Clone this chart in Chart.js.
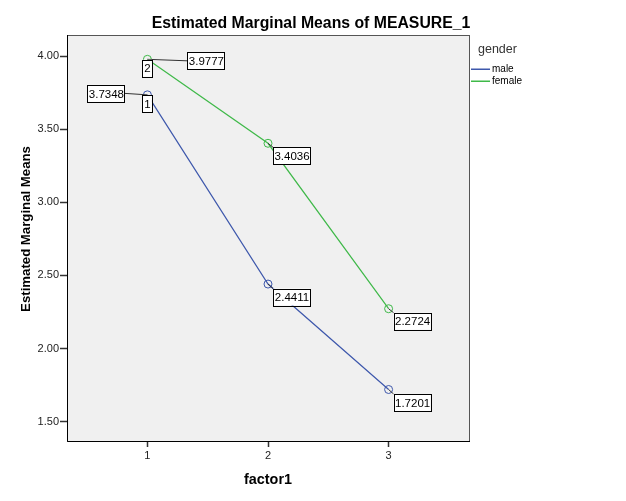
<!DOCTYPE html>
<html>
<head>
<meta charset="utf-8">
<script src="https://cdn.jsdelivr.net/npm/chart.js@4/dist/chart.umd.min.js"></script>
<style>
  html, body { margin: 0; padding: 0; background: #fff; }
  #wrap { position: relative; width: 626px; height: 501px; }
</style>
</head>
<body>
<div id="wrap"><canvas id="emm" width="626" height="501"></canvas></div>
<script>
'use strict';

// Data
const factorLevels = [1, 2, 3];
const maleMeans = [3.7348, 2.4411, 1.7201];
const femaleMeans = [3.9777, 3.4036, 2.2724];
const yTicks = [1.5, 2.0, 2.5, 3.0, 3.5, 4.0];
const seriesNames = ['male', 'female'];

const MALE = '#3e58ac';
const FEMALE = '#3fb949';
const seriesColors = [MALE, FEMALE];

// label box offsets relative to the point (left, top) - style only
const labelOffsets = {
    male: [[-60, -10], [5, 4.5], [5, 4.5]],
    female: [[40, -7], [5, 4], [5, 4]]
};

function fitFont(ctx, text, weight, targetWidth, base) {
    ctx.font = `${weight} ${base}px Arial, "Liberation Sans", sans-serif`;
    const w = ctx.measureText(text).width;
    return base * targetWidth / w;
}

function drawBox(ctx, text, left, top, w) {
    const h = 17;
    ctx.fillStyle = '#fff';
    ctx.fillRect(left, top, w, h);
    ctx.strokeStyle = '#000';
    ctx.lineWidth = 1;
    ctx.strokeRect(Math.round(left) + 0.5, Math.round(top) + 0.5, w, h);
    ctx.fillStyle = '#000';
    ctx.font = '11.5px Arial, "Liberation Sans", sans-serif';
    ctx.textAlign = 'center';
    ctx.textBaseline = 'middle';
    ctx.fillText(text, left + w / 2 + 0.5, top + h / 2 + 1);
}

const decorPlugin = {
    id: 'spssDecor',
    beforeDatasetsDraw(chart) {
        const { ctx, chartArea: a } = chart;
        ctx.save();
        ctx.fillStyle = '#f0f0f0';
        ctx.fillRect(a.left, a.top, a.right - a.left, a.bottom - a.top);
        ctx.restore();
    },
    afterDraw(chart) {
        const { ctx, chartArea: a } = chart;
        ctx.save();
        // frame
        ctx.strokeStyle = '#555';
        ctx.lineWidth = 1;
        ctx.strokeRect(a.left + 0.5, a.top + 0.5, a.right - a.left, a.bottom - a.top);
        ctx.strokeStyle = '#000';
        ctx.beginPath();
        ctx.moveTo(a.left + 0.5, a.top);
        ctx.lineTo(a.left + 0.5, a.bottom + 0.5);
        ctx.lineTo(a.right + 1, a.bottom + 0.5);
        ctx.stroke();

        // title
        const title = 'Estimated Marginal Means of MEASURE_1';
        const tSize = fitFont(ctx, title, 'bold', 319, 16);
        ctx.font = `bold ${tSize}px Arial, "Liberation Sans", sans-serif`;
        ctx.fillStyle = '#000';
        ctx.textAlign = 'center';
        ctx.textBaseline = 'alphabetic';
        ctx.fillText(title, 311, 27.5);

        // axis titles
        const xt = 'factor1';
        ctx.font = `bold ${fitFont(ctx, xt, 'bold', 48, 14)}px Arial, "Liberation Sans", sans-serif`;
        ctx.fillText(xt, (a.left + a.right) / 2, 483.5);
        const yt = 'Estimated Marginal Means';
        const ySize = fitFont(ctx, yt, 'bold', 166, 14);
        ctx.save();
        ctx.translate(30, 229);
        ctx.rotate(-Math.PI / 2);
        ctx.font = `bold ${ySize}px Arial, "Liberation Sans", sans-serif`;
        ctx.fillText(yt, 0, 0);
        ctx.restore();

        // legend
        ctx.textAlign = 'left';
        ctx.fillStyle = '#333';
        ctx.font = '12.5px Arial, "Liberation Sans", sans-serif';
        ctx.fillText('gender', 478, 53);
        seriesNames.forEach((name, i) => {
            const y = 69 + i * 12;
            ctx.fillStyle = seriesColors[i];
            ctx.fillRect(471, y - 0.5, 19, 1.5);
            ctx.fillStyle = '#000';
            ctx.font = '10px Arial, "Liberation Sans", sans-serif';
            ctx.textBaseline = 'middle';
            ctx.fillText(name, 492, y + 0.5);
            ctx.textBaseline = 'alphabetic';
        });

        // value labels with leader lines
        chart.data.datasets.forEach((ds, i) => {
            const meta = chart.getDatasetMeta(i);
            const offs = labelOffsets[ds.label];
            meta.data.forEach((pt, j) => {
                const [dx, dy] = offs[j];
                const left = pt.x + dx, top = pt.y + dy, w = 37;
                ctx.strokeStyle = '#333';
                ctx.lineWidth = 1;
                ctx.beginPath();
                if (dx < 0) {
                    ctx.moveTo(left + w, top + 8.5);
                } else if (dx > 20) {
                    ctx.moveTo(left, top + 8.5);
                } else {
                    ctx.moveTo(left, top);
                }
                ctx.lineTo(pt.x, pt.y);
                ctx.stroke();
                drawBox(ctx, ds.data[j].y.toFixed(4), left, top, w);
            });
            // series number box under the first point
            const p0 = meta.data[0];
            drawBox(ctx, String(i + 1), p0.x - 5.5, p0.y + 0.5, 10);
        });
        ctx.restore();
    }
};

function toPoints(values) {
    return factorLevels.map((x, i) => ({ x, y: values[i] }));
}

function series(i, values) {
    return {
        label: seriesNames[i],
        data: toPoints(values),
        borderColor: seriesColors[i],
        borderWidth: 1.2,
        pointStyle: 'circle',
        pointRadius: 4,
        pointBorderColor: seriesColors[i],
        pointBackgroundColor: 'rgba(0,0,0,0)',
        pointBorderWidth: 1,
        tension: 0
    };
}

new Chart(document.getElementById('emm'), {
    type: 'line',
    data: {
        datasets: [series(0, maleMeans), series(1, femaleMeans)]
    },
    options: {
        responsive: false,
        animation: false,
        layout: { padding: { left: 0, top: 35, right: 157, bottom: 0 } },
        plugins: {
            legend: { display: false },
            title: { display: false },
            tooltip: { enabled: false }
        },
        scales: {
            x: {
                type: 'linear',
                min: 1 / 3,
                max: 11 / 3,
                afterFit: s => { s.height = 60; },
                afterBuildTicks: s => { s.ticks = factorLevels.map(v => ({ value: v })); },
                grid: { drawOnChartArea: false, drawTicks: true, tickLength: 6, color: '#333', tickWidth: 1.5 },
                border: { display: true, color: '#000' },
                ticks: {
                    color: '#222',
                    padding: 2,
                    font: { family: 'Arial, "Liberation Sans", sans-serif', size: 11 },
                    maxRotation: 0
                }
            },
            y: {
                type: 'linear',
                min: 1.368,
                max: 4.144,
                afterFit: s => { s.width = 67; },
                afterBuildTicks: s => { s.ticks = yTicks.map(v => ({ value: v })); },
                grid: { drawOnChartArea: false, drawTicks: true, tickLength: 7, color: '#333', tickWidth: 1.5 },
                border: { display: true, color: '#000' },
                ticks: {
                    color: '#222',
                    padding: 1,
                    font: { family: 'Arial, "Liberation Sans", sans-serif', size: 11 },
                    callback: v => Number(v).toFixed(2)
                }
            }
        }
    },
    plugins: [decorPlugin]
});
</script>
</body>
</html>
